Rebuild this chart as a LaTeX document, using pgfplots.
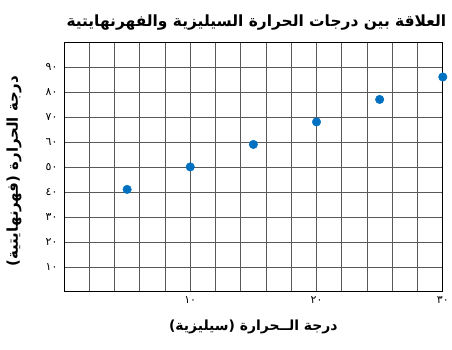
\documentclass[border=0pt]{standalone}
\usepackage{fontspec}
\usepackage{pgfplots}
\pgfplotsset{compat=1.18}
\setmainfont{DejaVu Sans}
\newfontfamily\arabicfont[Script=Arabic]{DejaVu Sans}
\TeXXeTstate=1
\definecolor{ptblue}{HTML}{0070C0}
\begin{document}
\begin{tikzpicture}
\begin{axis}[
  scale only axis,
  width=379bp, height=250bp,
  xmin=0, xmax=30, ymin=0, ymax=100,
  xtick={10,20,30},
  xticklabels={\arabicfont ١٠,\arabicfont ٢٠,\arabicfont ٣٠},
  minor xtick={0,2,...,30},
  ytick={10,20,...,90},
  yticklabels={\arabicfont ١٠,\arabicfont ٢٠,\arabicfont ٣٠,\arabicfont ٤٠,\arabicfont ٥٠,\arabicfont ٦٠,\arabicfont ٧٠,\arabicfont ٨٠,\arabicfont ٩٠},
  grid=both,
  major grid style={black!65, line width=0.6pt},
  minor grid style={black!65, line width=0.6pt},
  major tick length=0pt, minor tick length=0pt,
  axis line style={black, line width=0.9pt},
  tick label style={font=\fontsize{11}{12}\selectfont},
  xticklabel style={yshift=-1bp},
  yticklabel style={xshift=-3bp},
  title={\arabicfont\bfseries\fontsize{15.5}{18}\selectfont\beginR العلاقة بين درجات الحرارة السيليزية والفهرنهايتية\endR},
  title style={at={(rel axis cs:0.5,1)}, anchor=south, yshift=2bp, xshift=3bp},
  clip=false,
]
\addplot[only marks, mark=*, mark size=4.3pt, color=ptblue] coordinates {
  (5,41) (10,50) (15,59) (20,68) (25,77) (30,86)
};
\coordinate (sw) at (rel axis cs:0,0);
\coordinate (ne) at (rel axis cs:1,1);
\coordinate (yl) at (rel axis cs:0,0.5);
\coordinate (xl) at (rel axis cs:0.5,0);
\end{axis}
\node[rotate=90, anchor=center, font=\arabicfont\bfseries\fontsize{15}{17}\selectfont] at ([xshift=-50bp,yshift=-4bp]yl) {\beginR درجة الحرارة (فهرنهايتية)\endR};
\node[anchor=center, font=\arabicfont\bfseries\fontsize{14}{16}\selectfont] at ([yshift=-35bp]xl) {\beginR درجة الــحرارة (سيليزية)\endR};
\path ([shift={(-64bp,-58bp)}]sw) rectangle ([shift={(9bp,42bp)}]ne);
\end{tikzpicture}
\end{document}
